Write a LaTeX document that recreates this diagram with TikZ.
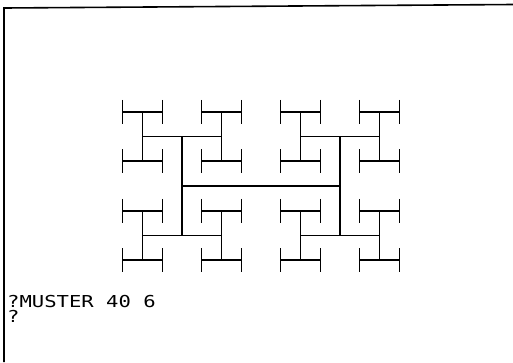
\documentclass[tikz,border=0pt]{standalone}
\usepackage{fontspec}
\newfontfamily\termfont[FakeStretch=1.25]{DejaVu Sans Mono}
\begin{document}
\begin{tikzpicture}[x=1bp,y=-1bp,
  seg/.style={line width=1.6bp,black},
  frameline/.style={line width=1.6bp,black},
  termtext/.style={font=\termfont\fontsize{16.5}{16.5}\selectfont,inner sep=0pt,anchor=base west}]
\useasboundingbox (0,0) rectangle (513,362);
% frame (top and left edges of the screen)
\coordinate (tl) at (4,8);
\coordinate (tr) at (513,4.5);
\coordinate (bl) at (4,362);
\draw[frameline] (bl) -- (tl) -- (tr);
% H-tree, 6 levels
\def\cx{261}\def\cy{186}
\draw[seg] ({\cx-79},\cy) -- ({\cx+79},\cy);
\foreach \a in {-1,1}{
  \draw[seg] ({\cx+\a*79},{\cy-49.5}) -- ({\cx+\a*79},{\cy+49.5});
  \foreach \b in {-1,1}{
    \pgfmathsetmacro\xa{\cx+\a*79}
    \pgfmathsetmacro\ya{\cy+\b*49.5}
    \draw[seg] ({\xa-39.5},\ya) -- ({\xa+39.5},\ya);
    \foreach \c in {-1,1}{
      \pgfmathsetmacro\xb{\xa+\c*39.5}
      \draw[seg] (\xb,{\ya-24.75}) -- (\xb,{\ya+24.75});
      \foreach \d in {-1,1}{
        \pgfmathsetmacro\yb{\ya+\d*24.75}
        \draw[seg] ({\xb-20},\yb) -- ({\xb+20},\yb);
        \draw[seg] ({\xb-20},{\yb-12}) -- ({\xb-20},{\yb+12});
        \draw[seg] ({\xb+20},{\yb-12}) -- ({\xb+20},{\yb+12});
      }
    }
  }
}
% terminal text
\node[termtext] (cmd) at (7,307) {?MUSTER 40 6};
\node[termtext] (prompt) at (7,322) {?};
\end{tikzpicture}
\end{document}
